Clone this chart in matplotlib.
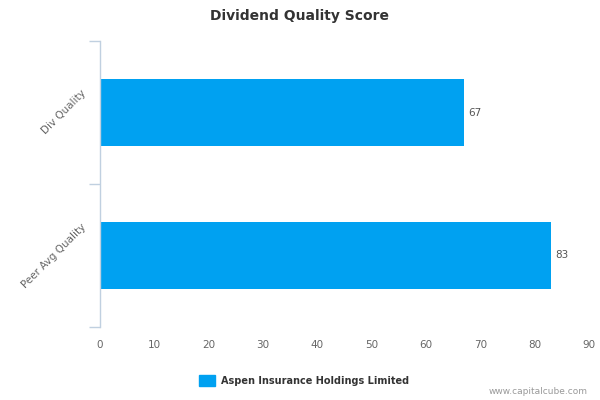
import matplotlib
matplotlib.use("Agg")
import matplotlib.pyplot as plt
from matplotlib.patches import Rectangle

categories = ["Div Quality", "Peer Avg Quality"]
values = [67, 83]
series_name = "Aspen Insurance Holdings Limited"
xticks = [0, 10, 20, 30, 40, 50, 60, 70, 80, 90]

bar_color = "#00A1F1"
plt.rcParams['font.family'] = ['DejaVu Sans']

fig = plt.figure(figsize=(6, 4), dpi=100)
ax = fig.add_axes([100/600, 1-327/400, 489/600, 286/400])

ypos = list(range(len(categories)))
ax.barh(ypos, values, height=0.475, color=bar_color, zorder=2)
for y, v in zip(ypos, values):
    ax.text(v + 0.8, y, str(v), va="center", ha="left", fontsize=7.5, color="#555555")

ax.set_xlim(0, 90)
ax.set_ylim(len(categories) - 0.5, -0.5)
ax.set_xticks(xticks)
ax.set_xticklabels([str(t) for t in xticks], fontsize=7.5, color="#666666")
ax.tick_params(axis="x", length=0, pad=9)

ax.set_yticks(ypos)
ax.set_yticklabels(categories, rotation=45, ha="right", va="center",
                   fontsize=7.5, color="#666666")
ax.tick_params(axis="y", which="major", length=0, pad=9)
ax.set_yticks([-0.5, 0.5, 1.5], minor=True)
ax.tick_params(axis="y", which="minor", length=8, color="#C0D0E0", width=1)

for s in ["top", "right", "bottom"]:
    ax.spines[s].set_visible(False)
ax.spines["left"].set_color("#C0D0E0")
ax.spines["left"].set_linewidth(1)

fig.text(0.5, 1-16/400, "Dividend Quality Score", ha="center", va="center",
         fontsize=10, fontweight="bold", color="#333333")

fig.patches.append(Rectangle((199/600, 1-386/400), 16/600, 11/400,
                             transform=fig.transFigure, color=bar_color))
fig.text(221/600, 1-381/400, series_name, ha="left", va="center",
         fontsize=7, fontweight="bold", color="#333333")
fig.text(588/600, 1-392/400, "www.capitalcube.com", ha="right", va="center",
         fontsize=6.5, color="#999999")

fig.savefig("out.png", dpi=100)
